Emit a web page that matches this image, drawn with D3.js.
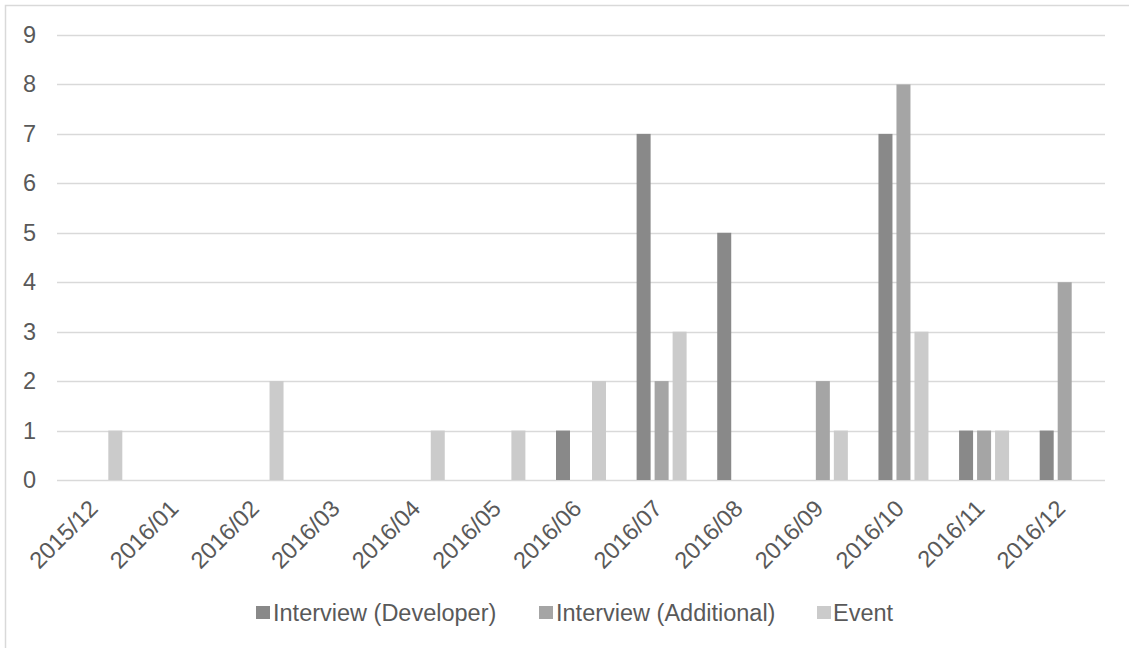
<!DOCTYPE html>
<html>
<head>
<meta charset="utf-8">
<script src="https://cdn.jsdelivr.net/npm/d3@7"></script>
<style>
  html, body { margin: 0; padding: 0; background: #fff; }
  svg { display: block; font-family: "Liberation Sans", Arial, sans-serif; }
</style>
</head>
<body>
<svg id="chart" width="1129" height="648"></svg>
<script>
// Monthly activity counts
const months = ["2015/12", "2016/01", "2016/02", "2016/03", "2016/04", "2016/05", "2016/06",
                "2016/07", "2016/08", "2016/09", "2016/10", "2016/11", "2016/12"];
const seriesNames = ["Interview (Developer)", "Interview (Additional)", "Event"];
const developer  = [0, 0, 0, 0, 0, 0, 1, 7, 5, 0, 7, 1, 1];
const additional = [0, 0, 0, 0, 0, 0, 0, 2, 0, 2, 8, 1, 4];
const events     = [1, 0, 2, 0, 1, 1, 2, 3, 0, 1, 3, 1, 0];
const yTicks = [0, 1, 2, 3, 4, 5, 6, 7, 8, 9];

const seriesValues = [developer, additional, events];
const colors = ["#898989", "#a5a5a5", "#cbcbcb"];

const svg = d3.select("#chart");
const W = 1129, H = 648;
const plot = { left: 57, right: 1105, top: 35, bottom: 480 };
const fontSize = 23.5;
const textColor = "#595959";

// Chart area border
svg.append("rect")
  .attr("x", 5.5).attr("y", 5.5)
  .attr("width", W + 10).attr("height", H + 10)
  .attr("fill", "#fff").attr("stroke", "#d9d9d9").attr("stroke-width", 1.5);

const x = d3.scaleBand().domain(months).range([plot.left, plot.right]).padding(0);
const y = d3.scaleLinear().domain([0, 9]).range([plot.bottom, plot.top]);

const barW = 14, barGap = 4;
const groupW = barW * 3 + barGap * 2;
const inner = d3.scaleBand().domain(seriesNames)
  .range([0, groupW]).paddingInner(barGap / (barW + barGap)).paddingOuter(0);

// Gridlines
svg.append("g")
  .selectAll("line").data(yTicks).join("line")
  .attr("x1", plot.left).attr("x2", plot.right)
  .attr("y1", d => Math.round(y(d)) + 0.5).attr("y2", d => Math.round(y(d)) + 0.5)
  .attr("stroke", "#d9d9d9").attr("stroke-width", 1.5);

// Y axis labels
const yAxis = d3.axisLeft(y).tickValues(yTicks).tickSize(0).tickPadding(0);
const gy = svg.append("g").attr("transform", `translate(${plot.left - 21},0)`).call(yAxis);
gy.select(".domain").remove();
gy.selectAll("text")
  .attr("font-size", fontSize).attr("fill", textColor)
  .attr("font-family", "Liberation Sans, Arial, sans-serif");

// Bars
const rows = months.map((m, i) => ({ month: m, values: seriesValues.map(s => s[i]) }));
const groups = svg.append("g").selectAll("g").data(rows).join("g")
  .attr("transform", d => `translate(${x(d.month) + (x.bandwidth() - groupW) / 2},0)`);
groups.selectAll("rect")
  .data(d => d.values.map((v, k) => ({ name: seriesNames[k], value: v, k })))
  .join("rect")
  .filter(d => d.value > 0)
  .attr("x", d => inner(d.name))
  .attr("width", inner.bandwidth())
  .attr("y", d => y(d.value))
  .attr("height", d => y(0) - y(d.value))
  .attr("fill", d => colors[d.k]);

// X axis labels (rotated)
const xAxis = d3.axisBottom(x).tickSize(0).tickPadding(0);
const gx = svg.append("g").attr("transform", `translate(0,${plot.bottom})`).call(xAxis);
gx.select(".domain").remove();
gx.selectAll("text")
  .attr("font-size", fontSize).attr("fill", textColor)
  .attr("font-family", "Liberation Sans, Arial, sans-serif")
  .attr("text-anchor", "end")
  .attr("dy", "0")
  .attr("transform", "translate(2,30) rotate(-45)");

// Legend
const legendItems = seriesNames.map((n, k) => ({ name: n, color: colors[k] }));
const legendSwatchX = [256, 539, 817];
const legendTextX = [273, 556, 833];
const lg = svg.append("g").selectAll("g").data(legendItems).join("g");
lg.append("rect")
  .attr("x", (d, i) => legendSwatchX[i]).attr("y", 606)
  .attr("width", 14).attr("height", 13)
  .attr("fill", d => d.color);
lg.append("text")
  .attr("x", (d, i) => legendTextX[i]).attr("y", 621)
  .attr("font-size", fontSize).attr("fill", textColor)
  .text(d => d.name);
</script>
</body>
</html>
